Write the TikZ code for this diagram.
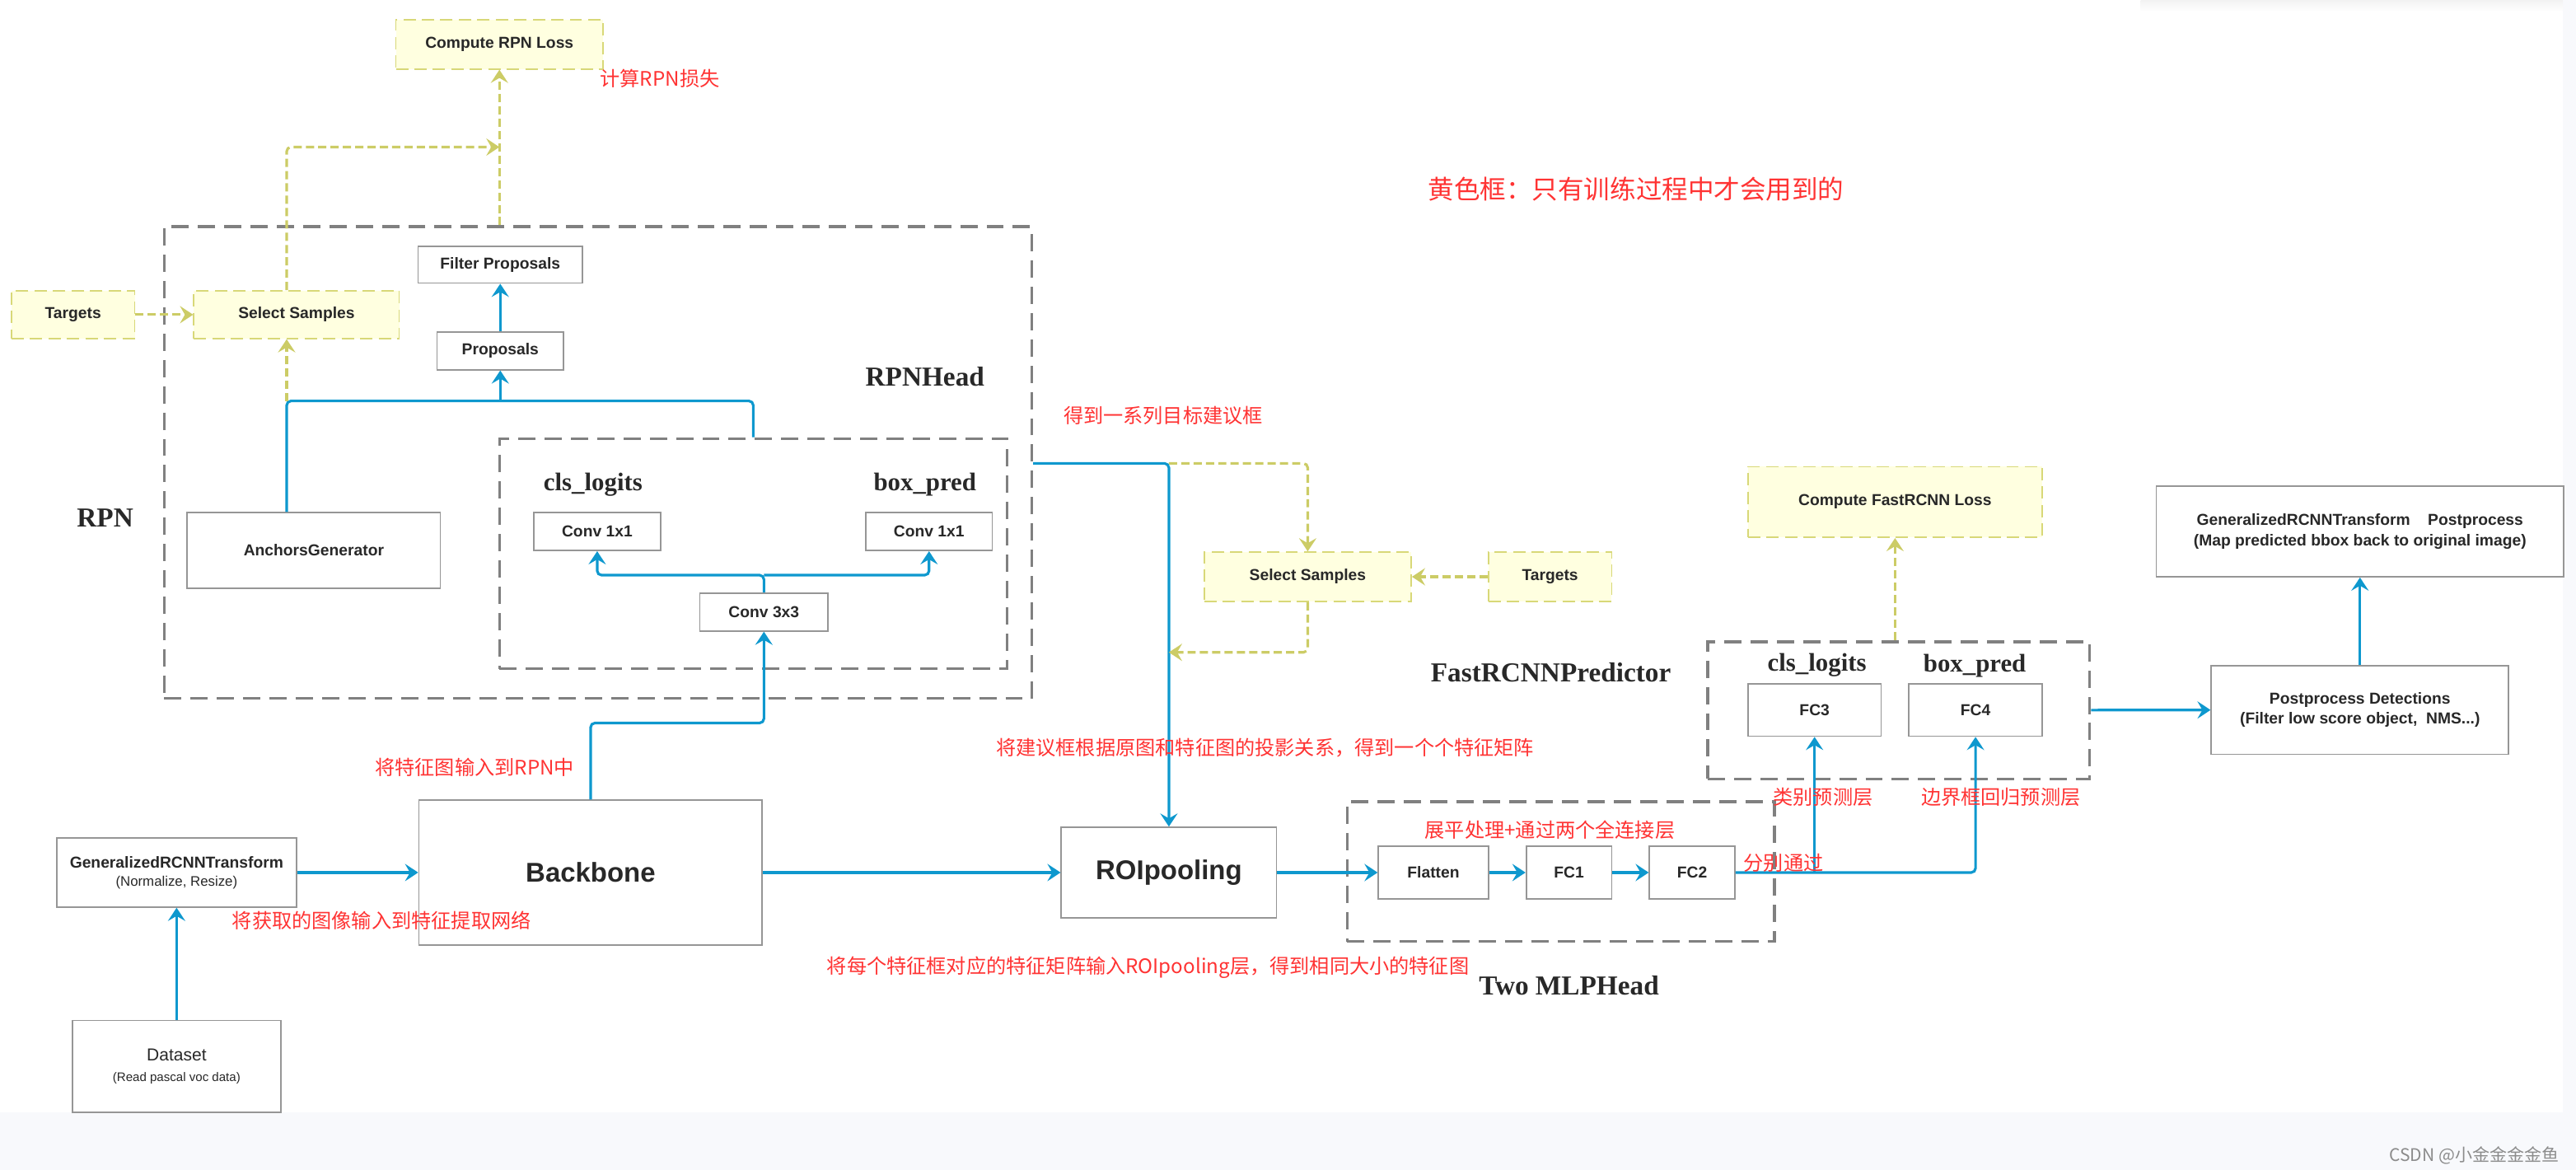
\documentclass[tikz,border=0pt]{standalone}
\usepackage{fontspec}
\setmainfont{Liberation Sans}
\newfontfamily\cjk{Noto Sans CJK SC}
\newfontfamily\tagfont{Liberation Serif}
\usetikzlibrary{arrows.meta, positioning, fit}

\definecolor{flowblue}{RGB}{14,152,206}
\definecolor{trainline}{RGB}{204,204,102}
\definecolor{trainborder}{RGB}{216,216,120}
\definecolor{trainfill}{RGB}{255,255,224}
\definecolor{framegray}{RGB}{128,128,128}
\definecolor{boxgray}{RGB}{150,150,150}
\definecolor{notered}{RGB}{255,51,51}
\definecolor{textdark}{RGB}{40,40,40}
\definecolor{bgstrip}{RGB}{248,249,252}

\begin{document}
\begin{tikzpicture}[
    x=0.2mm, y=-0.2mm,
    >={Stealth[length=1.6mm, width=2.1mm, inset=0.6mm]},
    procbox/.style={draw=boxgray, line width=0.5pt, fill=white, text=textdark, align=center,
        inner sep=0pt, font=\bfseries\fontsize{5.5}{6.2}\selectfont},
    trainbox/.style={procbox, draw=trainborder, fill=trainfill, dash pattern=on 1.5mm off 0.75mm},
    boxsize/.style 2 args={minimum width=#1, minimum height=#2},
    groupframe/.style={draw=framegray, line width=1pt, dash pattern=on 2.1mm off 1.1mm, inner sep=0pt},
    flow/.style={draw=flowblue, line width=0.9pt, ->, rounded corners=1.5pt},
    flowline/.style={draw=flowblue, line width=0.9pt, rounded corners=1.5pt},
    trainflow/.style={draw=trainline, line width=0.9pt, dash pattern=on 1mm off 0.5mm, ->, rounded corners=1.5pt},
    headlabel/.style={text=textdark, inner sep=0pt, font=\tagfont\bfseries\fontsize{9.5}{11}\selectfont},
    note/.style={text=notered, anchor=west, inner sep=0pt, font=\cjk\fontsize{6.9}{8}\selectfont},
]

    \useasboundingbox (0,0) rectangle (1568,712);
    \fill[bgstrip] (0,677) rectangle (1568,712);
    \fill[bgstrip] (1560,0) rectangle (1568,712);
    \shade[top color=black!5, bottom color=white] (1303,0) rectangle (1560,7);

    % dashed groups
    \node[groupframe, fit={(100,138) (628,425)}]      (rpn)  {};
    \node[groupframe, fit={(304,267) (613,407)}]      (head) {};
    \node[groupframe, fit={(820,488) (1080,573)}]     (mlp)  {};
    \node[groupframe, fit={(1039.5,390.5) (1272,474)}] (pred) {};

    % RPN part
    \node[trainbox, boxsize={25.2mm}{6mm}]    (rpnloss)  at (304,27)      {Compute RPN Loss};
    \node[trainbox, boxsize={15mm}{5.8mm}]    (tgtA)     at (44.5,191.5)  {Targets};
    \node[trainbox, boxsize={25mm}{5.8mm}]    (selA)     at (180.5,191.5) {Select Samples};
    \node[procbox,  boxsize={20mm}{4.5mm}]    (filter)   at (304.5,161)   {Filter Proposals};
    \node[procbox,  boxsize={15.4mm}{4.6mm}]  (props)    at (304.5,213.5) {Proposals};
    \node[procbox,  boxsize={30.8mm}{9.2mm}]  (anchors)  at (191,335)     {AnchorsGenerator};
    \node[procbox,  boxsize={15.4mm}{4.6mm}]  (conv1)    at (363.5,323.5) {Conv 1x1};
    \node[procbox,  boxsize={15.4mm}{4.6mm}]  (conv2)    at (565.5,323.5) {Conv 1x1};
    \node[procbox,  boxsize={15.6mm}{4.6mm}]  (conv3)    at (465,372.5)   {Conv 3x3};

    % main line
    \node[procbox,  boxsize={25.4mm}{11.2mm}, font=\fontsize{6}{6.8}\selectfont]
                                              (dataset)  at (107.5,649)
        {Dataset\\[0.5pt]{\fontsize{4.3}{5}\selectfont(Read pascal voc data)}};
    \node[procbox,  boxsize={29.2mm}{8.4mm}]  (transform) at (107.5,531)
        {GeneralizedRCNNTransform\\{\mdseries\fontsize{4.8}{5.5}\selectfont(Normalize, Resize)}};
    \node[procbox,  boxsize={41.8mm}{17.6mm}, font=\bfseries\fontsize{9.4}{11}\selectfont]
                                              (backbone) at (359.5,531)   {Backbone};
    \node[procbox,  boxsize={26.2mm}{11mm}, font=\bfseries\fontsize{9.4}{11}\selectfont]
                                              (roi)      at (711.5,531)   {ROIpooling};
    \node[trainbox, boxsize={25.2mm}{6mm}]    (selB)     at (796,351)     {Select Samples};
    \node[trainbox, boxsize={15mm}{6mm}]      (tgtB)     at (943.5,351)   {Targets};
    \node[procbox,  boxsize={13.4mm}{6.4mm}]  (flatten)  at (872.5,531)   {Flatten};
    \node[procbox,  boxsize={10.4mm}{6.4mm}]  (fc1)      at (955,531)     {FC1};
    \node[procbox,  boxsize={10.4mm}{6.4mm}]  (fc2)      at (1030,531)    {FC2};
    \node[procbox,  boxsize={16.2mm}{6.4mm}]  (fc3)      at (1104.5,432)  {FC3};
    \node[procbox,  boxsize={16.2mm}{6.4mm}]  (fc4)      at (1202.5,432)  {FC4};
    \node[trainbox, boxsize={35.8mm}{8.6mm}]  (fastloss) at (1153.5,305.5) {Compute FastRCNN Loss};
    \node[procbox,  boxsize={36.2mm}{10.8mm}] (postdet)  at (1436.5,432)
        {Postprocess Detections\\[0.8pt](Filter low score object,\ \ NMS...)};
    \node[procbox,  boxsize={49.6mm}{11mm}]   (postproc) at (1436.5,323.5)
        {GeneralizedRCNNTransform\ \ \ \ Postprocess\\[0.8pt](Map predicted bbox back to original image)};

    % group titles
    \node[headlabel] (rpntag)     at (64,315)   {RPN};
    \node[headlabel] (rpnheadtag) at (563,229)  {RPNHead};
    \node[headlabel, font=\tagfont\bfseries\fontsize{8.8}{10}\selectfont] (rpncls) at (361,295) {cls\_logits};
    \node[headlabel, font=\tagfont\bfseries\fontsize{8.8}{10}\selectfont] (rpnbox) at (563,295) {box\_pred};
    \node[headlabel] (predtag)    at (944,409)  {FastRCNNPredictor};
    \node[headlabel, font=\tagfont\bfseries\fontsize{8.8}{10}\selectfont] (fastcls) at (1106,405) {cls\_logits};
    \node[headlabel, font=\tagfont\bfseries\fontsize{8.8}{10}\selectfont] (fastbox) at (1202,405) {box\_pred};
    \node[headlabel] (mlptag)     at (955,600)  {Two MLPHead};

    \coordinate (ajoint)    at (174.5,244);
    \coordinate (lossjoint) at (304,89.5);
    \coordinate (rpnin)     at (465,440);
    \coordinate (convsplit) at (465,350);
    \coordinate (roijoint)  at (711.5,282);
    \coordinate (roiback)   at (711.5,397);
    \coordinate (fcsplit)   at (fc3.south |- fc2.east);

    \path
        (dataset)   edge[flow]      (transform)
        (transform) edge[flow]      (backbone)
        (backbone)  edge[flow]      (roi)
        (roi)       edge[flow]      (flatten)
        (flatten)   edge[flow]      (fc1)
        (fc1)       edge[flow]      (fc2)
        (props)     edge[flow]      (filter)
        (pred)      edge[flow]      (postdet)
        (postdet)   edge[flow]      (postproc)
        (tgtA)      edge[trainflow] (selA)
        (tgtB)      edge[trainflow] (selB)
    ;

    \draw[flowline]  (anchors.north -| ajoint) |- (head.north |- ajoint) -- (head.north);
    \draw[flow]      (props.south |- ajoint) -- (props.south);
    \draw[trainflow] (ajoint) -- (selA.south -| ajoint);
    \draw[trainflow] (selA.north -| ajoint) |- (lossjoint);
    \draw[trainflow] (rpn.north -| rpnloss.south) -- (rpnloss.south);
    \draw[flow]      (backbone.north) |- (rpnin) -- (conv3.south);
    \draw[flow]      (conv3.north) -- (convsplit) -| (conv1.south);
    \draw[flow]      (convsplit) -| (conv2.south);
    \draw[flow]      (rpn.east |- roijoint) -| (roi.north);
    \draw[trainflow] (roijoint) -| (selB.north);
    \draw[trainflow] (selB.south) |- (roiback);
    \draw[flow]      (fc2.east) -| (fc4.south);
    \draw[flow]      (fcsplit) -- (fc3.south);
    \draw[trainflow] (pred.north -| fastloss.south) -- (fastloss.south);

    % red notes
    \node[note] (n1)  at (365,48)   {计算RPN损失};
    \node[note] (n2)  at (647,253)  {得到一系列目标建议框};
    \node[note] (n3)  at (228,467)  {将特征图输入到RPN中};
    \node[note] (n4)  at (141,560)  {将获取的图像输入到特征提取网络};
    \node[note] (n5)  at (606,455)  {将建议框根据原图和特征图的投影关系，得到一个个特征矩阵};
    \node[note] (n6)  at (503,589)  {将每个特征框对应的特征矩阵输入ROIpooling层，得到相同大小的特征图};
    \node[note] (n7)  at (867,505)  {展平处理+通过两个全连接层};
    \node[note] (n8)  at (1061,525) {分别通过};
    \node[note] (n9)  at (1079,485) {类别预测层};
    \node[note] (n10) at (1169,485) {边界框回归预测层};
    \node[note, font=\cjk\fontsize{9}{10}\selectfont] (n11) at (869,115) {黄色框：只有训练过程中才会用到的};

    \node[anchor=east, inner sep=0pt, text=black!45, font=\cjk\fontsize{6}{7}\selectfont] (mark) at (1558,703) {CSDN @小金金金金鱼};
\end{tikzpicture}
\end{document}
